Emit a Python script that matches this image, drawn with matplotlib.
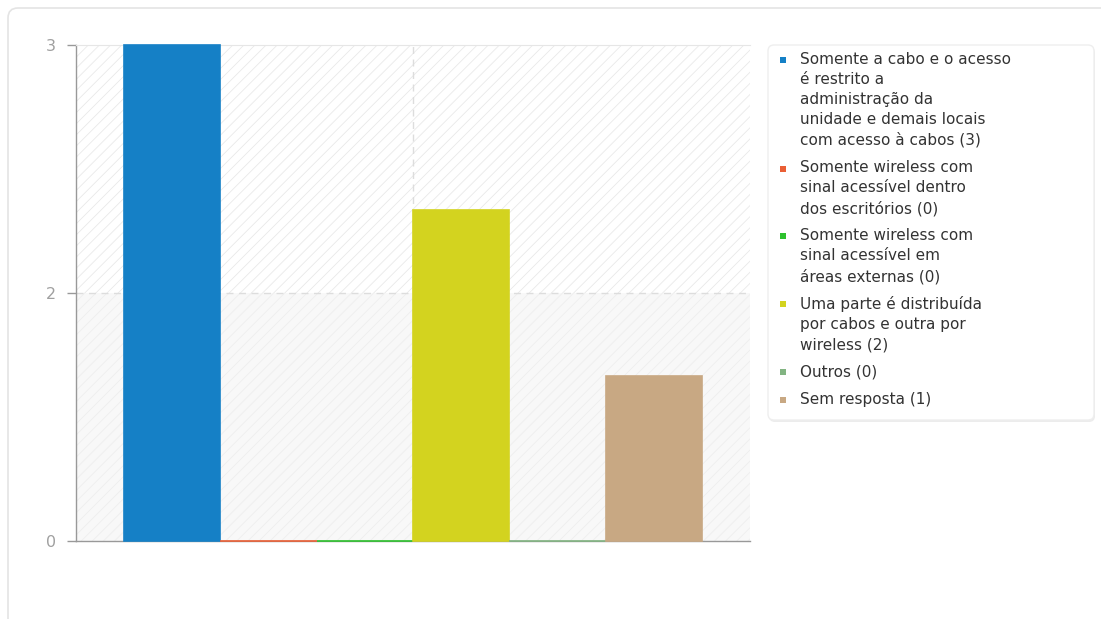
import matplotlib
matplotlib.use("Agg")
import matplotlib.pyplot as plt
from matplotlib.patches import FancyBboxPatch, Rectangle
from matplotlib.transforms import IdentityTransform

# data
labels = [
    "Somente a cabo e o acesso\né restrito a\nadministração da\nunidade e demais locais\ncom acesso à cabos (3)",
    "Somente wireless com\nsinal acessível dentro\ndos escritórios (0)",
    "Somente wireless com\nsinal acessível em\náreas externas (0)",
    "Uma parte é distribuída\npor cabos e outra por\nwireless (2)",
    "Outros (0)",
    "Sem resposta (1)",
]
values = [3, 0, 0, 2, 0, 1]
colors = ["#1580c6", "#ea5f35", "#2dc12d", "#d3d31f", "#82b482", "#c8a883"]
ytick_pos = [0, 1.5, 3]
ytick_lab = ["0", "2", "3"]

plt.rcParams['font.family'] = ['DejaVu Sans']
plt.rcParams['hatch.linewidth'] = 0.6

W, H = 1101, 619
fig = plt.figure(figsize=(W / 100, H / 100), dpi=100)
px = IdentityTransform()

# card outline
card = FancyBboxPatch((8, -20), 1120, H - 8 + 20, boxstyle="round,pad=0,rounding_size=10",
                      transform=px, facecolor="white",
                      edgecolor="#e4e4e4", linewidth=1.2, zorder=-10)
fig.patches.append(card)

ax = fig.add_axes([76 / W, 78 / H, 674 / W, 496 / H])
ax.set_facecolor("white")

# background bands
ax.axhspan(1.5, 3, facecolor="white", edgecolor="#e9e9e9", hatch="///", linewidth=0, zorder=0)
ax.axhspan(0, 1.5, facecolor="#f8f8f8", edgecolor="#eeeeee", hatch="///", linewidth=0, zorder=0)

x = list(range(len(values)))
ax.bar(x, values, width=1, color=colors, edgecolor=colors, linewidth=1.2, zorder=3, clip_on=False)

ax.set_xlim(-1, 6)
ax.set_ylim(0, 3)
ax.axhline(1.5, color="#dddddd", linestyle=(0, (5, 4)), linewidth=1, zorder=1)
ax.axvline(2.5, color="#dddddd", linestyle=(0, (5, 4)), linewidth=1, zorder=1)

ax.set_xticks([])
ax.set_yticks(ytick_pos)
ax.set_yticklabels(ytick_lab)
ax.tick_params(axis='y', length=6.5, width=1, color="#999999", labelcolor="#a0a0a0",
               labelsize=11.5, pad=8)
for s in ["left", "bottom"]:
    ax.spines[s].set_color("#999999")
    ax.spines[s].set_linewidth(1)
ax.spines["top"].set_color("#e6e6e6")
ax.spines["right"].set_visible(False)

# legend box (drawn by hand so the swatches sit on the first line)
lx0, lx1, ly0, ly1 = 768, 1094, 45, 420
shadow = FancyBboxPatch((lx0 + 1, H - ly1 - 2), lx1 - lx0, ly1 - ly0,
                        boxstyle="round,pad=0,rounding_size=6", transform=px,
                        facecolor="#ececec", edgecolor="none", zorder=5)
box = FancyBboxPatch((lx0, H - ly1), lx1 - lx0, ly1 - ly0,
                     boxstyle="round,pad=0,rounding_size=6", transform=px,
                     facecolor="white", edgecolor="#eeeeee", linewidth=1, zorder=6)
fig.patches.extend([shadow, box])

pitch = 20.3
gap = 7
y = 60
for lab, c in zip(labels, colors):
    fig.patches.append(Rectangle((780, H - y - 3), 6, 6, transform=px,
                                 facecolor=c, edgecolor="none", zorder=7))
    fig.text(800, H - y + 8, lab, transform=px, va="top", ha="left",
             fontsize=11, color="#333333", linespacing=1.415, zorder=7)
    y += lab.count("\n") * pitch + pitch + gap

fig.savefig("out.png", dpi=100)
